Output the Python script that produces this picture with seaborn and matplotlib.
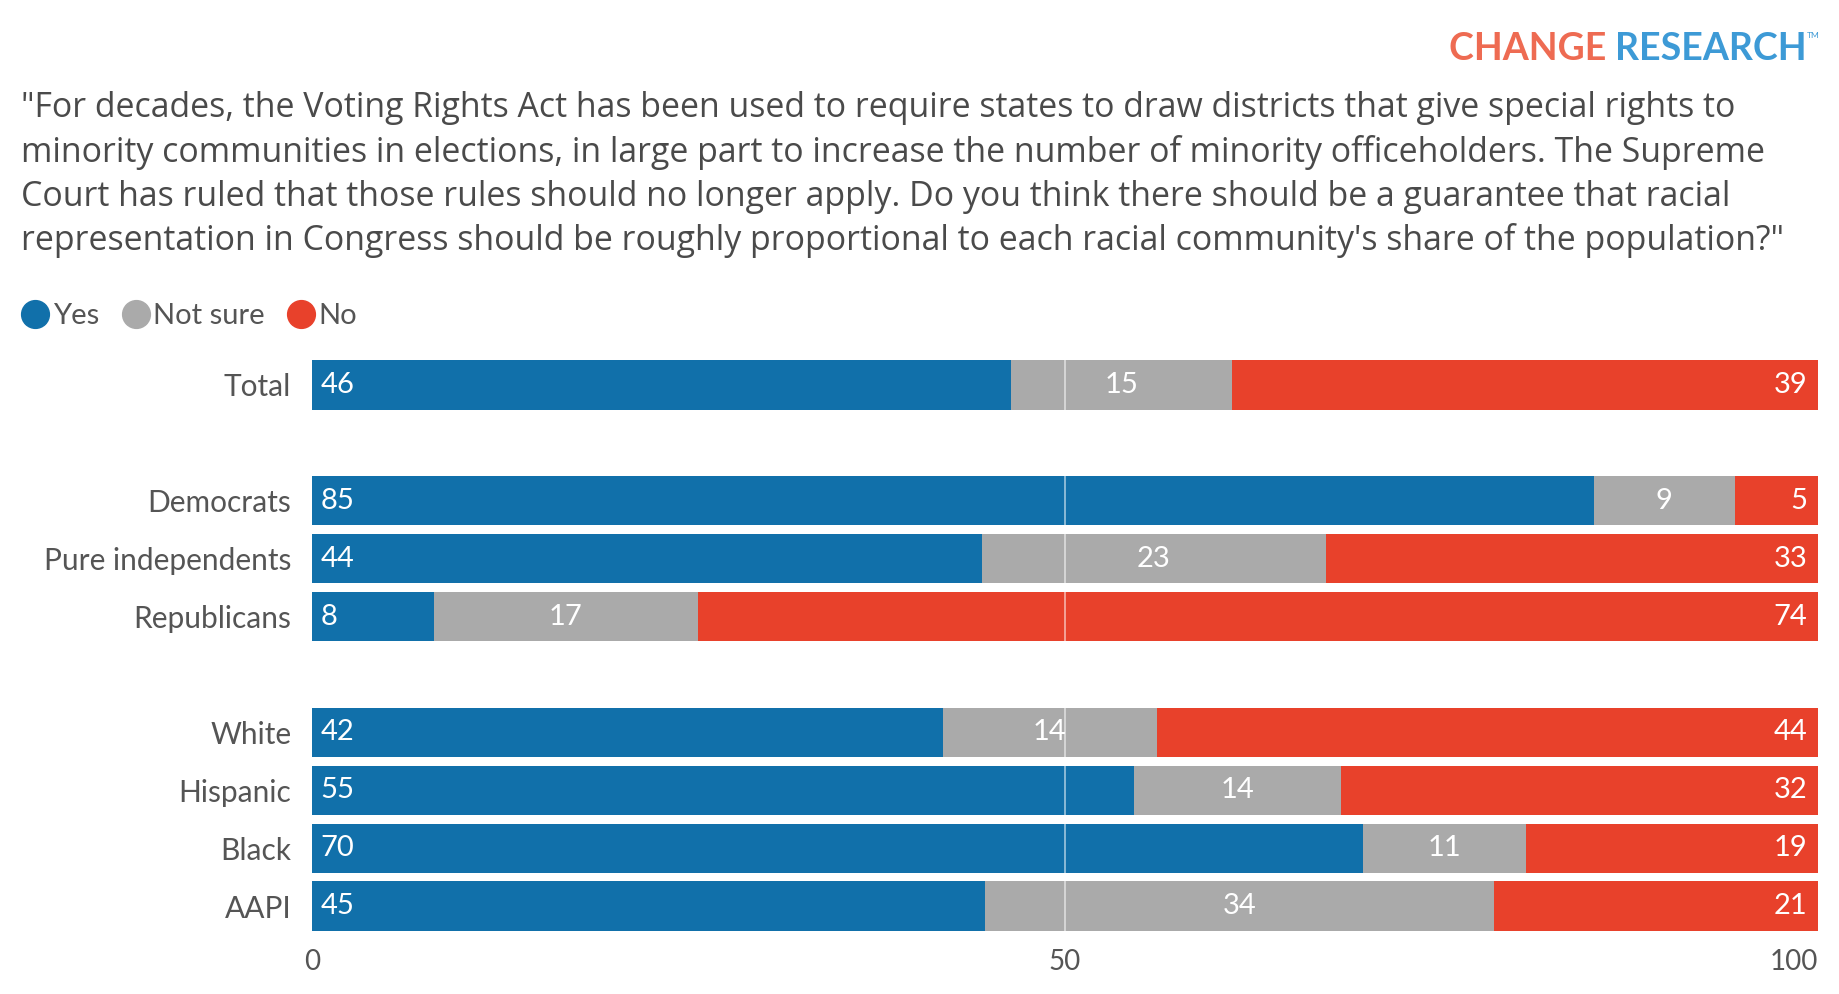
import numpy as np
import pandas as pd
import matplotlib
matplotlib.use("Agg")
import matplotlib.pyplot as plt
from matplotlib.lines import Line2D
from matplotlib.text import Annotation
import seaborn as sns

# =========================
# Data (shares, labels as printed)
# =========================
categories = ["Total", "Democrats", "Pure independents", "Republicans",
              "White", "Hispanic", "Black", "AAPI"]
yes = [46.4, 85.1, 44.5, 8.1, 41.9, 54.6, 69.8, 44.7]
not_sure = [14.7, 9.4, 22.8, 17.5, 14.2, 13.7, 10.8, 33.8]
no = [38.9, 5.5, 32.7, 74.4, 43.9, 31.7, 19.4, 21.5]
yes_labels = [46, 85, 44, 8, 42, 55, 70, 45]
not_sure_labels = [15, 9, 23, 17, 14, 14, 11, 34]
no_labels = [39, 5, 33, 74, 44, 32, 19, 21]
x_ticks = [0, 50, 100]

question = ('"For decades, the Voting Rights Act has been used to require states to draw districts that give special rights to\n'
            'minority communities in elections, in large part to increase the number of minority officeholders. The Supreme\n'
            'Court has ruled that those rules should no longer apply. Do you think there should be a guarantee that racial\n'
            'representation in Congress should be roughly proportional to each racial community\'s share of the population?"')

# row slots, with empty slots between the groups
slots = [0, 2, 3, 4, 6, 7, 8, 9]

BLUE = "#1170AA"
GRAY = "#AAAAAA"
RED = "#E8412B"
TEXT = "#555555"

sns.set_style("white")
plt.rcParams['font.family'] = ['Lato', 'DejaVu Sans']

df = pd.DataFrame({"cat": categories, "pos": slots, "yes": yes,
                   "not_sure": not_sure, "no": no})
df["end_yes"] = df["yes"]
df["end_ns"] = df["yes"] + df["not_sure"]
df["end_no"] = df["end_ns"] + df["no"]

fig = plt.figure(figsize=(18.4, 9.94), dpi=100)
ax = fig.add_axes([0.1696, 0.0594, 0.8184, 0.5824])

# stacked bars: draw cumulative ends back to front
for col, colr in [("end_no", RED), ("end_ns", GRAY), ("end_yes", BLUE)]:
    sns.barplot(data=df, x=col, y="pos", orient="h", native_scale=True,
                color=colr, saturation=1, width=0.85, linewidth=0, ax=ax)

ax.axvline(50, color="white", alpha=0.55, lw=1.3, zorder=5)

# value labels
for i, r in df.iterrows():
    ax.text(0.55, r["pos"], str(yes_labels[i]), color="white",
            fontsize=21, ha="left", va="center", zorder=6)
    ax.text(r["yes"] + r["not_sure"] / 2, r["pos"], str(not_sure_labels[i]), color="white",
            fontsize=21, ha="center", va="center", zorder=6)
    ax.text(r["end_no"] - 0.7, r["pos"], str(no_labels[i]), color="white",
            fontsize=21, ha="right", va="center", zorder=6)

ax.set_xlim(0, 100)
ax.set_ylim(9.5, -0.5)
ax.set_yticks(slots, categories)
ax.set_xticks(x_ticks, [str(t) for t in x_ticks])
ax.get_xticklabels()[-1].set_ha("right")
ax.set_xlabel("")
ax.set_ylabel("")
ax.tick_params(axis="y", length=0, pad=15, labelsize=21.5, labelcolor=TEXT)
ax.tick_params(axis="x", length=0, pad=10, labelsize=20, labelcolor=TEXT)
sns.despine(ax=ax, left=True, bottom=True)

# question text
fig.text(0.0113, 0.908, question, fontsize=24.4, color="#4a4a4a",
         family=["Open Sans", "DejaVu Sans"],
         ha="left", va="top", linespacing=1.36)

# legend
handles = [Line2D([], [], marker="o", ls="", markersize=20, color=c) for c in [BLUE, GRAY, RED]]
fig.legend(handles, ["Yes", "Not sure", "No"], loc="center left",
           bbox_to_anchor=(0.0113, 0.682), ncol=3, frameon=False,
           handletextpad=0.1, columnspacing=0.75, handlelength=1.0,
           borderaxespad=0, borderpad=0, fontsize=21, labelcolor=TEXT)

# logo
research = fig.text(0.982, 0.951, "RESEARCH", fontsize=27, fontweight="bold",
                    color="#3D9AD6", ha="right", va="center")
fig.add_artist(Annotation("CHANGE ", xy=(0, 0.5), xycoords=research,
                          ha="right", va="center", fontsize=27,
                          fontweight="bold", color="#EE6B52"))
fig.add_artist(Annotation("TM", xy=(1, 1), xycoords=research, ha="left",
                          va="top", fontsize=6, color="#3D9AD6"))

fig.savefig("out.png", dpi=100, facecolor="white")
